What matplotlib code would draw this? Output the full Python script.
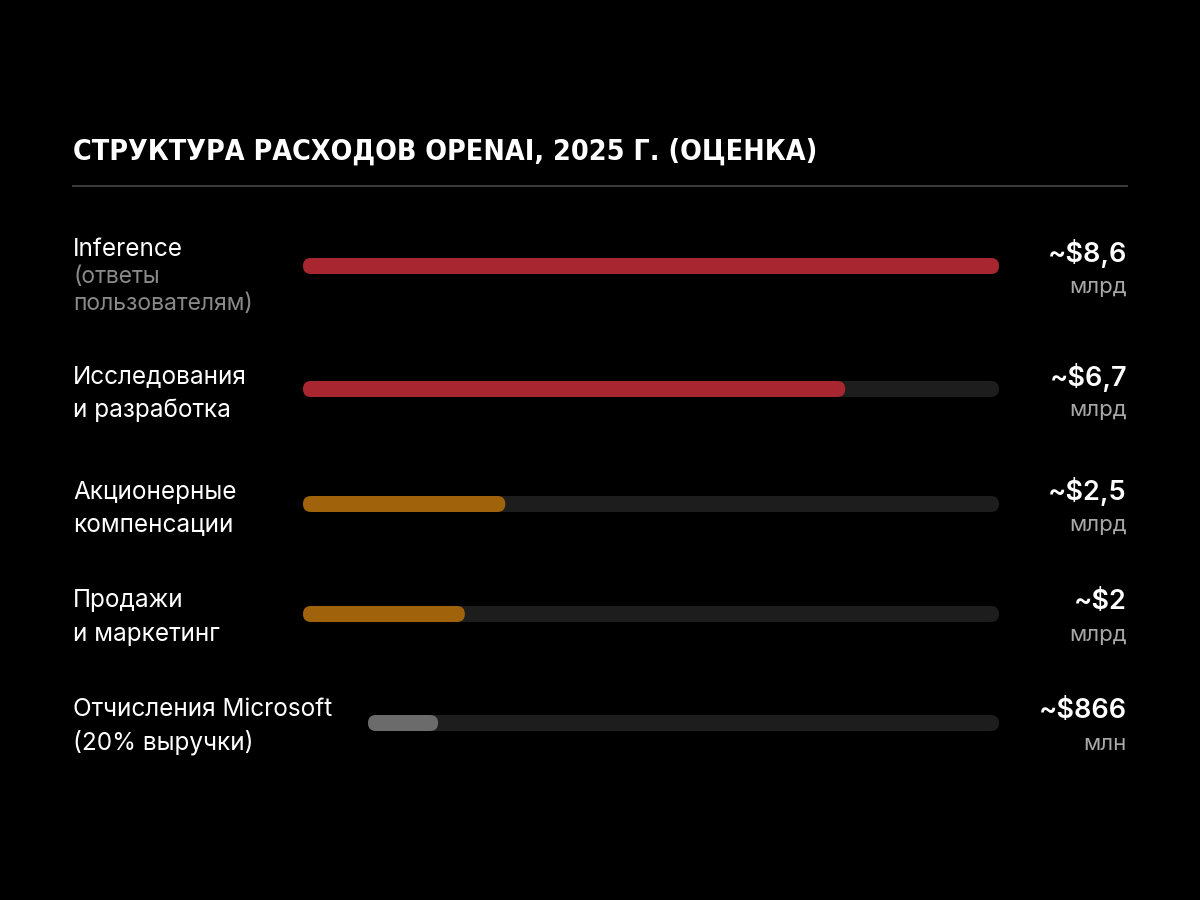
import matplotlib
matplotlib.use("Agg")
import matplotlib.pyplot as plt
from matplotlib.patches import FancyBboxPatch

title = "СТРУКТУРА РАСХОДОВ OPENAI, 2025 Г. (ОЦЕНКА)"
main_labels = ["Inference", "Исследования\nи разработка", "Акционерные\nкомпенсации",
               "Продажи\nи маркетинг", "Отчисления Microsoft\n(20% выручки)"]
sub_labels = ["(ответы\nпользователям)", "", "", "", ""]
values_bn = [8.6, 6.7, 2.5, 2.0, 0.866]
value_text = ["~$8,6", "~$6,7", "~$2,5", "~$2", "~$866"]
unit_text = ["млрд", "млрд", "млрд", "млрд", "млн"]
bar_colors = ["#A8262F", "#A8262F", "#A0620A", "#A0620A", "#6B6B6B"]

# layout (pixels)
row_y = [266, 389, 504, 614, 723]
track_start = [303, 303, 303, 303, 368]
track_end = 999
full_len = 999 - 303
vmax = max(values_bn)
bar_h = 16

fig = plt.figure(figsize=(12, 9), dpi=100, facecolor="black")
ax = fig.add_axes([0, 0, 1, 1])
ax.set_xlim(0, 1200)
ax.set_ylim(900, 0)
ax.set_facecolor("black")
ax.axis("off")

ax.text(73, 160, title, color="white", fontsize=20.5, fontweight="bold",
        family="DejaVu Sans", fontstretch="condensed", va="baseline", ha="left")
ax.plot([73, 1127], [186, 186], color="#3a3a3a", lw=1.5)

def rbar(x0, x1, yc, color):
    p = FancyBboxPatch((x0, yc - bar_h / 2), x1 - x0, bar_h,
                       boxstyle=f"round,pad=0,rounding_size={bar_h/2}",
                       fc=color, ec="none")
    ax.add_patch(p)

for i, v in enumerate(values_bn):
    y = row_y[i]
    rbar(track_start[i], track_end, y, "#1d1d1d")
    rbar(track_start[i], track_start[i] + v / vmax * full_len, y, bar_colors[i])

label_tops = [249, 377, 492, 601, 709]
for i in range(5):
    lines = main_labels[i].split("\n")
    yy = label_tops[i]
    for ln in lines:
        ax.text(73, yy, ln, color="white", fontsize=17.5, family="Inter",
                va="center", ha="left")
        yy += 33
    if sub_labels[i]:
        yy = 277
        for ln in sub_labels[i].split("\n"):
            ax.text(73, yy, ln, color="#8a8a8a", fontsize=16.5, family="Inter",
                    va="center", ha="left")
            yy += 27

val_y = [254, 377, 492, 602, 711]
for i in range(5):
    ax.text(1127, val_y[i], value_text[i], color="white", fontsize=19.5,
            fontweight="semibold", family="Inter", va="center", ha="right")
    ax.text(1127, val_y[i] + 33, unit_text[i], color="#a8a8a8", fontsize=16,
            family="Inter", va="center", ha="right")

fig.savefig("out.png", dpi=100, facecolor="black")
